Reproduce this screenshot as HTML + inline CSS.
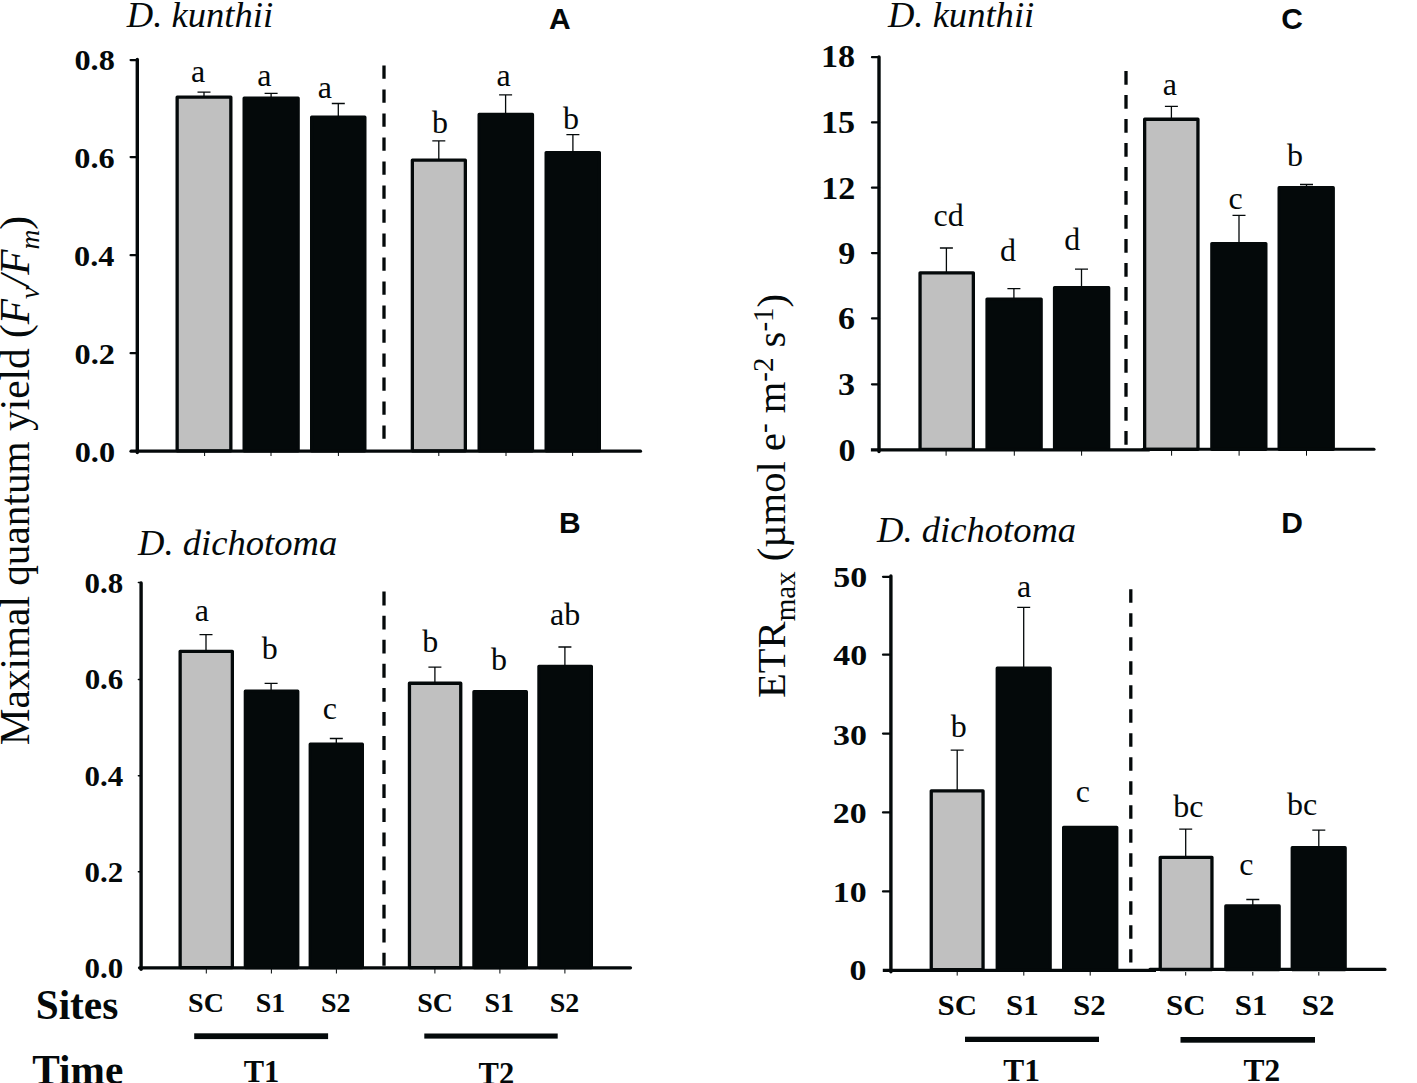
<!DOCTYPE html>
<html><head><meta charset="utf-8"><style>
html,body{margin:0;padding:0;background:#fff;overflow:hidden}
svg{display:block}
text{fill:#04090a}
</style></head><body>
<svg width="1417" height="1083" viewBox="0 0 1417 1083">
<rect width="1417" height="1083" fill="#fff"/>
<text x="126.78" y="26.75" font-family="'Liberation Serif', serif" font-style="italic" font-size="36.6">D. kunthii</text>
<text x="887.93" y="26.55" font-family="'Liberation Serif', serif" font-style="italic" font-size="36.6">D. kunthii</text>
<text x="138.07" y="554.95" font-family="'Liberation Serif', serif" font-style="italic" font-size="36.6">D. dichotoma</text>
<text x="877.02" y="541.75" font-family="'Liberation Serif', serif" font-style="italic" font-size="36.6">D. dichotoma</text>
<text x="549" y="29.1" font-family="'Liberation Sans', sans-serif" font-weight="bold" font-size="30">A</text>
<text x="559.05" y="532.8" font-family="'Liberation Sans', sans-serif" font-weight="bold" font-size="30">B</text>
<text x="1281.17" y="29.3" font-family="'Liberation Sans', sans-serif" font-weight="bold" font-size="30">C</text>
<text x="1281.33" y="533" font-family="'Liberation Sans', sans-serif" font-weight="bold" font-size="30">D</text>
<text transform="translate(74.42 69.84) scale(1.06 1)" font-family="'Liberation Serif', serif" font-weight="bold" font-size="30.5">0.8</text>
<text transform="translate(74.24 167.94) scale(1.06 1)" font-family="'Liberation Serif', serif" font-weight="bold" font-size="30.5">0.6</text>
<text transform="translate(74.07 265.84) scale(1.06 1)" font-family="'Liberation Serif', serif" font-weight="bold" font-size="30.5">0.4</text>
<text transform="translate(74.48 364.44) scale(1.06 1)" font-family="'Liberation Serif', serif" font-weight="bold" font-size="30.5">0.2</text>
<text transform="translate(74.65 461.74) scale(1.06 1)" font-family="'Liberation Serif', serif" font-weight="bold" font-size="30.5">0.0</text>
<text transform="translate(84.61 593.16) scale(1.05 1)" font-family="'Liberation Serif', serif" font-weight="bold" font-size="29.5">0.8</text>
<text transform="translate(84.64 689.16) scale(1.05 1)" font-family="'Liberation Serif', serif" font-weight="bold" font-size="29.5">0.6</text>
<text transform="translate(84.48 785.96) scale(1.05 1)" font-family="'Liberation Serif', serif" font-weight="bold" font-size="29.5">0.4</text>
<text transform="translate(84.47 882.16) scale(1.05 1)" font-family="'Liberation Serif', serif" font-weight="bold" font-size="29.5">0.2</text>
<text transform="translate(84.54 977.56) scale(1.05 1)" font-family="'Liberation Serif', serif" font-weight="bold" font-size="29.5">0.0</text>
<text transform="translate(821.03 67.49) scale(1.1 1)" font-family="'Liberation Serif', serif" font-weight="bold" font-size="31">18</text>
<text transform="translate(821.03 133.09) scale(1.1 1)" font-family="'Liberation Serif', serif" font-weight="bold" font-size="31">15</text>
<text transform="translate(821.25 199.2) scale(1.1 1)" font-family="'Liberation Serif', serif" font-weight="bold" font-size="31">12</text>
<text transform="translate(838.21 264.29) scale(1.1 1)" font-family="'Liberation Serif', serif" font-weight="bold" font-size="31">9</text>
<text transform="translate(838.04 329.19) scale(1.1 1)" font-family="'Liberation Serif', serif" font-weight="bold" font-size="31">6</text>
<text transform="translate(837.99 394.59) scale(1.1 1)" font-family="'Liberation Serif', serif" font-weight="bold" font-size="31">3</text>
<text transform="translate(838.38 460.89) scale(1.1 1)" font-family="'Liberation Serif', serif" font-weight="bold" font-size="31">0</text>
<text transform="translate(833.35 586.5) scale(1.13 1)" font-family="'Liberation Serif', serif" font-weight="bold" font-size="30">50</text>
<text transform="translate(833.32 665.2) scale(1.13 1)" font-family="'Liberation Serif', serif" font-weight="bold" font-size="30">40</text>
<text transform="translate(832.95 744.6) scale(1.13 1)" font-family="'Liberation Serif', serif" font-weight="bold" font-size="30">30</text>
<text transform="translate(832.85 822.5) scale(1.13 1)" font-family="'Liberation Serif', serif" font-weight="bold" font-size="30">20</text>
<text transform="translate(832.77 901.7) scale(1.13 1)" font-family="'Liberation Serif', serif" font-weight="bold" font-size="30">10</text>
<text transform="translate(849.62 979.7) scale(1.13 1)" font-family="'Liberation Serif', serif" font-weight="bold" font-size="30">0</text>
<text x="191.11" y="81.78" font-family="'Liberation Serif', serif" font-size="32">a</text>
<text x="257.16" y="85.58" font-family="'Liberation Serif', serif" font-size="32">a</text>
<text x="317.71" y="97.88" font-family="'Liberation Serif', serif" font-size="32">a</text>
<text x="431.89" y="133.48" font-family="'Liberation Serif', serif" font-size="32">b</text>
<text x="496.61" y="86.48" font-family="'Liberation Serif', serif" font-size="32">a</text>
<text x="562.89" y="128.68" font-family="'Liberation Serif', serif" font-size="32">b</text>
<text x="194.71" y="621.38" font-family="'Liberation Serif', serif" font-size="32">a</text>
<text x="261.74" y="658.88" font-family="'Liberation Serif', serif" font-size="32">b</text>
<text x="322.67" y="718.58" font-family="'Liberation Serif', serif" font-size="32">c</text>
<text x="422.34" y="651.68" font-family="'Liberation Serif', serif" font-size="32">b</text>
<text x="490.89" y="669.68" font-family="'Liberation Serif', serif" font-size="32">b</text>
<text x="549.96" y="625.18" font-family="'Liberation Serif', serif" font-size="32">ab</text>
<text x="933.48" y="225.58" font-family="'Liberation Serif', serif" font-size="32">cd</text>
<text x="1000.05" y="260.78" font-family="'Liberation Serif', serif" font-size="32">d</text>
<text x="1064.25" y="250.28" font-family="'Liberation Serif', serif" font-size="32">d</text>
<text x="1162.76" y="94.58" font-family="'Liberation Serif', serif" font-size="32">a</text>
<text x="1228.42" y="209.18" font-family="'Liberation Serif', serif" font-size="32">c</text>
<text x="1286.99" y="166.38" font-family="'Liberation Serif', serif" font-size="32">b</text>
<text x="950.69" y="736.68" font-family="'Liberation Serif', serif" font-size="32">b</text>
<text x="1017.11" y="597.18" font-family="'Liberation Serif', serif" font-size="32">a</text>
<text x="1075.82" y="802.08" font-family="'Liberation Serif', serif" font-size="32">c</text>
<text x="1173.36" y="816.68" font-family="'Liberation Serif', serif" font-size="32">bc</text>
<text x="1239.22" y="874.88" font-family="'Liberation Serif', serif" font-size="32">c</text>
<text x="1287.06" y="815.18" font-family="'Liberation Serif', serif" font-size="32">bc</text>
<text x="188.08" y="1012.02" font-family="'Liberation Serif', serif" font-weight="bold" font-size="28">SC</text>
<text x="255.81" y="1012.02" font-family="'Liberation Serif', serif" font-weight="bold" font-size="28">S1</text>
<text x="320.97" y="1012.02" font-family="'Liberation Serif', serif" font-weight="bold" font-size="28">S2</text>
<text x="417.18" y="1012.02" font-family="'Liberation Serif', serif" font-weight="bold" font-size="28">SC</text>
<text x="484.46" y="1012.02" font-family="'Liberation Serif', serif" font-weight="bold" font-size="28">S1</text>
<text x="549.77" y="1012.02" font-family="'Liberation Serif', serif" font-weight="bold" font-size="28">S2</text>
<text transform="translate(937.56 1015.2) scale(1.02 1)" font-family="'Liberation Serif', serif" font-weight="bold" font-size="30.3">SC</text>
<text transform="translate(1006.12 1015.2) scale(1.02 1)" font-family="'Liberation Serif', serif" font-weight="bold" font-size="30.3">S1</text>
<text transform="translate(1072.97 1015.2) scale(1.02 1)" font-family="'Liberation Serif', serif" font-weight="bold" font-size="30.3">S2</text>
<text transform="translate(1166.06 1015.1) scale(1.02 1)" font-family="'Liberation Serif', serif" font-weight="bold" font-size="30.3">SC</text>
<text transform="translate(1234.87 1015.1) scale(1.02 1)" font-family="'Liberation Serif', serif" font-weight="bold" font-size="30.3">S1</text>
<text transform="translate(1301.82 1015.1) scale(1.02 1)" font-family="'Liberation Serif', serif" font-weight="bold" font-size="30.3">S2</text>
<text x="243.72" y="1082.08" font-family="'Liberation Serif', serif" font-weight="bold" font-size="30.5">T1</text>
<text x="478.57" y="1083.93" font-family="'Liberation Serif', serif" font-weight="bold" font-size="30.5">T2</text>
<text x="1003.36" y="1080.5" font-family="'Liberation Serif', serif" font-weight="bold" font-size="31.4">T1</text>
<text x="1243.5" y="1081.4" font-family="'Liberation Serif', serif" font-weight="bold" font-size="31.4">T2</text>
<text x="35.68" y="1018.69" font-family="'Liberation Serif', serif" font-weight="bold" font-size="41.3">Sites</text>
<text x="32.27" y="1084.3" font-family="'Liberation Serif', serif" font-weight="bold" font-size="41.3">Time</text>
<rect x="177.15" y="97.15" width="53.7" height="353.65" fill="#c0c0c0" stroke="#04090a" stroke-width="3.3" stroke-linejoin="round"/>
<rect x="244.15" y="98.15" width="54" height="352.65" fill="#04090a" stroke="#04090a" stroke-width="3.3" stroke-linejoin="round"/>
<rect x="311.65" y="117.15" width="53.2" height="333.65" fill="#04090a" stroke="#04090a" stroke-width="3.3" stroke-linejoin="round"/>
<rect x="412.35" y="160.15" width="53" height="290.65" fill="#c0c0c0" stroke="#04090a" stroke-width="3.3" stroke-linejoin="round"/>
<rect x="479.15" y="114.45" width="53.3" height="336.35" fill="#04090a" stroke="#04090a" stroke-width="3.3" stroke-linejoin="round"/>
<rect x="546.15" y="152.55" width="53.2" height="298.25" fill="#04090a" stroke="#04090a" stroke-width="3.3" stroke-linejoin="round"/>
<path d="M204 96.5V92.2M197.5 92.2H210.5" stroke="#04090a" stroke-width="1.3" fill="none"/>
<path d="M271.1 97.5V93.3M264.6 93.3H277.6" stroke="#04090a" stroke-width="1.3" fill="none"/>
<path d="M338.3 116.5V103.5M331.8 103.5H344.8" stroke="#04090a" stroke-width="1.3" fill="none"/>
<path d="M438.8 159.5V140.9M432.3 140.9H445.3" stroke="#04090a" stroke-width="1.3" fill="none"/>
<path d="M505.6 113.8V94.8M499.1 94.8H512.1" stroke="#04090a" stroke-width="1.3" fill="none"/>
<path d="M572.9 151.9V134.7M566.4 134.7H579.4" stroke="#04090a" stroke-width="1.3" fill="none"/>
<rect x="180.15" y="651.35" width="52.2" height="316.25" fill="#c0c0c0" stroke="#04090a" stroke-width="3.3" stroke-linejoin="round"/>
<rect x="245.35" y="691.15" width="52.4" height="276.45" fill="#04090a" stroke="#04090a" stroke-width="3.3" stroke-linejoin="round"/>
<rect x="310.25" y="744.25" width="52.1" height="223.35" fill="#04090a" stroke="#04090a" stroke-width="3.3" stroke-linejoin="round"/>
<rect x="409.45" y="683.25" width="51.3" height="284.35" fill="#c0c0c0" stroke="#04090a" stroke-width="3.3" stroke-linejoin="round"/>
<rect x="473.95" y="691.75" width="52.4" height="275.85" fill="#04090a" stroke="#04090a" stroke-width="3.3" stroke-linejoin="round"/>
<rect x="538.95" y="666.35" width="52.4" height="301.25" fill="#04090a" stroke="#04090a" stroke-width="3.3" stroke-linejoin="round"/>
<path d="M206 650.7V634.6M199.5 634.6H212.5" stroke="#04090a" stroke-width="1.3" fill="none"/>
<path d="M271.1 690.5V683.3M264.6 683.3H277.6" stroke="#04090a" stroke-width="1.3" fill="none"/>
<path d="M336.3 743.6V738.5M329.8 738.5H342.8" stroke="#04090a" stroke-width="1.3" fill="none"/>
<path d="M434.9 682.6V667.1M428.4 667.1H441.4" stroke="#04090a" stroke-width="1.3" fill="none"/>
<path d="M564.9 665.7V647M558.4 647H571.4" stroke="#04090a" stroke-width="1.3" fill="none"/>
<rect x="920.05" y="272.85" width="53.3" height="176.45" fill="#c0c0c0" stroke="#04090a" stroke-width="3.3" stroke-linejoin="round"/>
<rect x="987.05" y="299.05" width="54.1" height="150.25" fill="#04090a" stroke="#04090a" stroke-width="3.3" stroke-linejoin="round"/>
<rect x="1054.55" y="287.75" width="54.1" height="161.55" fill="#04090a" stroke="#04090a" stroke-width="3.3" stroke-linejoin="round"/>
<rect x="1144.65" y="119.25" width="53.3" height="330.05" fill="#c0c0c0" stroke="#04090a" stroke-width="3.3" stroke-linejoin="round"/>
<rect x="1211.85" y="243.55" width="54" height="205.75" fill="#04090a" stroke="#04090a" stroke-width="3.3" stroke-linejoin="round"/>
<rect x="1279.15" y="187.75" width="54.1" height="261.55" fill="#04090a" stroke="#04090a" stroke-width="3.3" stroke-linejoin="round"/>
<path d="M946.4 272.2V248M939.9 248H952.9" stroke="#04090a" stroke-width="1.3" fill="none"/>
<path d="M1013.9 298.4V288.7M1007.4 288.7H1020.4" stroke="#04090a" stroke-width="1.3" fill="none"/>
<path d="M1081.5 287.1V269.1M1075 269.1H1088" stroke="#04090a" stroke-width="1.3" fill="none"/>
<path d="M1171.4 118.6V106.4M1164.9 106.4H1177.9" stroke="#04090a" stroke-width="1.3" fill="none"/>
<path d="M1239 242.9V215.3M1232.5 215.3H1245.5" stroke="#04090a" stroke-width="1.3" fill="none"/>
<path d="M1306.5 187.1V184.5M1300 184.5H1313" stroke="#04090a" stroke-width="1.3" fill="none"/>
<rect x="931.25" y="790.85" width="51.8" height="178.75" fill="#c0c0c0" stroke="#04090a" stroke-width="3.3" stroke-linejoin="round"/>
<rect x="997.25" y="668.15" width="52.9" height="301.45" fill="#04090a" stroke="#04090a" stroke-width="3.3" stroke-linejoin="round"/>
<rect x="1063.65" y="827.35" width="53.1" height="142.25" fill="#04090a" stroke="#04090a" stroke-width="3.3" stroke-linejoin="round"/>
<rect x="1160.25" y="857.35" width="51.7" height="112.25" fill="#c0c0c0" stroke="#04090a" stroke-width="3.3" stroke-linejoin="round"/>
<rect x="1225.85" y="905.95" width="53.3" height="63.65" fill="#04090a" stroke="#04090a" stroke-width="3.3" stroke-linejoin="round"/>
<rect x="1292.25" y="847.75" width="52.9" height="121.85" fill="#04090a" stroke="#04090a" stroke-width="3.3" stroke-linejoin="round"/>
<path d="M957.2 790.2V750.2M950.7 750.2H963.7" stroke="#04090a" stroke-width="1.3" fill="none"/>
<path d="M1023.7 667.5V607.4M1017.2 607.4H1030.2" stroke="#04090a" stroke-width="1.3" fill="none"/>
<path d="M1185.7 856.7V829.1M1179.2 829.1H1192.2" stroke="#04090a" stroke-width="1.3" fill="none"/>
<path d="M1252.8 905.3V899.5M1246.3 899.5H1259.3" stroke="#04090a" stroke-width="1.3" fill="none"/>
<path d="M1318.8 847.1V830.2M1312.3 830.2H1325.3" stroke="#04090a" stroke-width="1.3" fill="none"/>
<line x1="137.3" y1="59.5" x2="137.3" y2="452.5" stroke="#04090a" stroke-width="3.4" stroke-linecap="round"/>
<line x1="131" y1="451.2" x2="640.5" y2="451.2" stroke="#04090a" stroke-width="3.2" stroke-linecap="round"/>
<line x1="130.6" y1="60.1" x2="137" y2="60.1" stroke="#04090a" stroke-width="2.3" stroke-linecap="round"/>
<line x1="130.6" y1="157.1" x2="137" y2="157.1" stroke="#04090a" stroke-width="2.3" stroke-linecap="round"/>
<line x1="130.6" y1="255.2" x2="137" y2="255.2" stroke="#04090a" stroke-width="2.3" stroke-linecap="round"/>
<line x1="130.6" y1="353.2" x2="137" y2="353.2" stroke="#04090a" stroke-width="2.3" stroke-linecap="round"/>
<line x1="204.6" y1="452" x2="204.6" y2="456" stroke="#04090a" stroke-width="1" stroke-linecap="butt"/>
<line x1="271" y1="452" x2="271" y2="456" stroke="#04090a" stroke-width="1" stroke-linecap="butt"/>
<line x1="338.4" y1="452" x2="338.4" y2="456" stroke="#04090a" stroke-width="1" stroke-linecap="butt"/>
<line x1="438.8" y1="452" x2="438.8" y2="456" stroke="#04090a" stroke-width="1" stroke-linecap="butt"/>
<line x1="506" y1="452" x2="506" y2="456" stroke="#04090a" stroke-width="1" stroke-linecap="butt"/>
<line x1="572.6" y1="452" x2="572.6" y2="456" stroke="#04090a" stroke-width="1" stroke-linecap="butt"/>
<line x1="141.1" y1="583" x2="141.1" y2="969.3" stroke="#04090a" stroke-width="3.4" stroke-linecap="round"/>
<line x1="139.5" y1="967.8" x2="630.5" y2="967.8" stroke="#04090a" stroke-width="3.2" stroke-linecap="round"/>
<line x1="138.4" y1="582.5" x2="141" y2="582.5" stroke="#04090a" stroke-width="1.5" stroke-linecap="round"/>
<line x1="138.4" y1="679.4" x2="141" y2="679.4" stroke="#04090a" stroke-width="1.5" stroke-linecap="round"/>
<line x1="138.4" y1="775.7" x2="141" y2="775.7" stroke="#04090a" stroke-width="1.5" stroke-linecap="round"/>
<line x1="138.4" y1="871.7" x2="141" y2="871.7" stroke="#04090a" stroke-width="1.5" stroke-linecap="round"/>
<line x1="206.3" y1="969" x2="206.3" y2="973.5" stroke="#04090a" stroke-width="1" stroke-linecap="butt"/>
<line x1="271.4" y1="969" x2="271.4" y2="973.5" stroke="#04090a" stroke-width="1" stroke-linecap="butt"/>
<line x1="336.4" y1="969" x2="336.4" y2="973.5" stroke="#04090a" stroke-width="1" stroke-linecap="butt"/>
<line x1="434.9" y1="969" x2="434.9" y2="973.5" stroke="#04090a" stroke-width="1" stroke-linecap="butt"/>
<line x1="499.9" y1="969" x2="499.9" y2="973.5" stroke="#04090a" stroke-width="1" stroke-linecap="butt"/>
<line x1="564.9" y1="969" x2="564.9" y2="973.5" stroke="#04090a" stroke-width="1" stroke-linecap="butt"/>
<line x1="879" y1="57" x2="879" y2="451.5" stroke="#04090a" stroke-width="3.4" stroke-linecap="round"/>
<line x1="870.9" y1="449.8" x2="1149.7" y2="449.8" stroke="#04090a" stroke-width="3.2" stroke-linecap="butt"/>
<line x1="1143" y1="449.2" x2="1374" y2="449.2" stroke="#04090a" stroke-width="3.1" stroke-linecap="round"/>
<line x1="872" y1="57.2" x2="879" y2="57.2" stroke="#04090a" stroke-width="2.3" stroke-linecap="round"/>
<line x1="872" y1="122.4" x2="879" y2="122.4" stroke="#04090a" stroke-width="2.3" stroke-linecap="round"/>
<line x1="872" y1="187.7" x2="879" y2="187.7" stroke="#04090a" stroke-width="2.3" stroke-linecap="round"/>
<line x1="872" y1="253.1" x2="879" y2="253.1" stroke="#04090a" stroke-width="2.3" stroke-linecap="round"/>
<line x1="872" y1="318.4" x2="879" y2="318.4" stroke="#04090a" stroke-width="2.3" stroke-linecap="round"/>
<line x1="872" y1="384.3" x2="879" y2="384.3" stroke="#04090a" stroke-width="2.3" stroke-linecap="round"/>
<line x1="946.1" y1="451" x2="946.1" y2="455.7" stroke="#04090a" stroke-width="1" stroke-linecap="butt"/>
<line x1="1014.3" y1="451" x2="1014.3" y2="455.7" stroke="#04090a" stroke-width="1" stroke-linecap="butt"/>
<line x1="1081.6" y1="451" x2="1081.6" y2="455.7" stroke="#04090a" stroke-width="1" stroke-linecap="butt"/>
<line x1="1171.6" y1="451" x2="1171.6" y2="455.7" stroke="#04090a" stroke-width="1" stroke-linecap="butt"/>
<line x1="1239.1" y1="451" x2="1239.1" y2="455.7" stroke="#04090a" stroke-width="1" stroke-linecap="butt"/>
<line x1="1306.5" y1="451" x2="1306.5" y2="455.7" stroke="#04090a" stroke-width="1" stroke-linecap="butt"/>
<line x1="890.9" y1="576" x2="890.9" y2="971.8" stroke="#04090a" stroke-width="3.4" stroke-linecap="round"/>
<line x1="882.8" y1="970.4" x2="1156" y2="970.4" stroke="#04090a" stroke-width="3.1" stroke-linecap="butt"/>
<line x1="1150" y1="969.4" x2="1385" y2="969.4" stroke="#04090a" stroke-width="3.1" stroke-linecap="round"/>
<line x1="883" y1="576.8" x2="890" y2="576.8" stroke="#04090a" stroke-width="2.2" stroke-linecap="round"/>
<line x1="883" y1="654.7" x2="890" y2="654.7" stroke="#04090a" stroke-width="2.2" stroke-linecap="round"/>
<line x1="883" y1="733.6" x2="890" y2="733.6" stroke="#04090a" stroke-width="2.2" stroke-linecap="round"/>
<line x1="883" y1="812.4" x2="890" y2="812.4" stroke="#04090a" stroke-width="2.2" stroke-linecap="round"/>
<line x1="883" y1="891.4" x2="890" y2="891.4" stroke="#04090a" stroke-width="2.2" stroke-linecap="round"/>
<line x1="957.2" y1="972" x2="957.2" y2="975.6" stroke="#04090a" stroke-width="1" stroke-linecap="butt"/>
<line x1="1023.8" y1="972" x2="1023.8" y2="975.6" stroke="#04090a" stroke-width="1" stroke-linecap="butt"/>
<line x1="1090.2" y1="972" x2="1090.2" y2="975.6" stroke="#04090a" stroke-width="1" stroke-linecap="butt"/>
<line x1="1185.7" y1="972" x2="1185.7" y2="975.6" stroke="#04090a" stroke-width="1" stroke-linecap="butt"/>
<line x1="1252.8" y1="972" x2="1252.8" y2="975.6" stroke="#04090a" stroke-width="1" stroke-linecap="butt"/>
<line x1="1318.8" y1="972" x2="1318.8" y2="975.6" stroke="#04090a" stroke-width="1" stroke-linecap="butt"/>
<line x1="384" y1="65.4" x2="384" y2="439.3" stroke="#04090a" stroke-width="3.3" stroke-dasharray="13.4 10.6"/>
<line x1="384" y1="591.6" x2="384" y2="965.8" stroke="#04090a" stroke-width="3.3" stroke-dasharray="13.8 10.28"/>
<line x1="1126" y1="70.9" x2="1126" y2="445" stroke="#04090a" stroke-width="3.3" stroke-dasharray="13.8 10.2"/>
<line x1="1130.8" y1="589.2" x2="1130.8" y2="962.5" stroke="#04090a" stroke-width="3.3" stroke-dasharray="13.6 10.4"/>
<rect x="194.2" y="1033.3" width="133.9" height="5.8" fill="#04090a"/>
<rect x="424.3" y="1033.5" width="133.4" height="5.1" fill="#04090a"/>
<rect x="965" y="1036.7" width="134" height="5.3" fill="#04090a"/>
<rect x="1180.5" y="1037" width="134.5" height="5.7" fill="#04090a"/>
<text transform="translate(28.8 745.2) rotate(-90)" font-family="'Liberation Serif', serif" font-size="41.3">Maximal quantum yield (<tspan font-style="italic">F</tspan><tspan font-style="italic" font-size="27.5" dy="9.7">v</tspan><tspan dy="-9.7" dx="0.5" font-style="italic">/F</tspan><tspan font-style="italic" font-size="27.5" dy="9.7">m</tspan><tspan dy="-9.7" dx="0">)</tspan></text>
<text transform="translate(784.6 698) rotate(-90)" font-family="'Liberation Serif', serif" font-size="40.6">ETR<tspan font-size="29" dy="10.2">max</tspan><tspan dy="-10.2"> (µmol e</tspan><tspan font-size="29" dy="-11.8">-</tspan><tspan dy="11.8"> m</tspan><tspan font-size="29" dy="-11.8">-2</tspan><tspan dy="11.8"> s</tspan><tspan font-size="29" dy="-11.8">-1</tspan><tspan dy="11.8">)</tspan></text>
</svg></body></html>
